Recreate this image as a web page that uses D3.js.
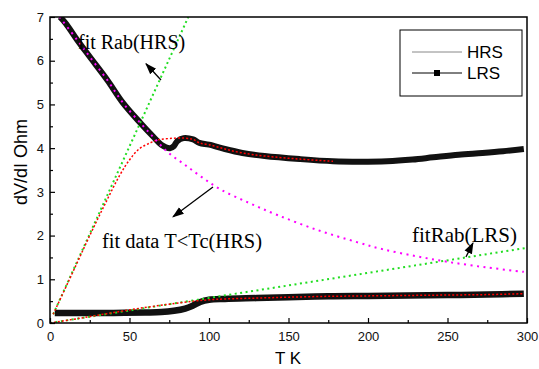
<!DOCTYPE html>
<html>
<head>
<meta charset="utf-8">
<script src="https://cdn.jsdelivr.net/npm/d3@7"></script>
<style>
  body { margin: 0; background: #fff; }
  svg { display: block; }
</style>
</head>
<body>
<svg id="chart"></svg>
<script>
// measured data, [T (K), dV/dI (Ohm)]
const hrsData = [[6.3,7.0],[10,6.85],[17,6.48],[25,6.09],[36,5.56],[46,5.03],[57,4.57],[65,4.26],[70,4.08],
  [75.5,4.0],[78,4.05],[80,4.16],[84,4.23],[90,4.2],[94,4.12],[100,4.08],[110,3.98],[121,3.89],[135,3.82],
  [157,3.75],[178,3.7],[195,3.69],[212,3.7],[228,3.74],[241,3.79],[257,3.85],[272,3.89],[285,3.93],[298,3.98]];
const lrsData = [[3,0.23],[20,0.23],[40,0.23],[60,0.24],[70,0.25],[78,0.28],[85,0.33],[90,0.4],[94.5,0.48],
  [100,0.53],[110,0.55],[130,0.57],[150,0.59],[175,0.61],[200,0.62],[225,0.63],[250,0.64],[275,0.65],[298,0.67]];

// fits
const fitLowT = [[6,7.0],[17,6.48],[25,6.09],[36,5.56],[46,5.03],[57,4.57],[65,4.25],[74,3.91],[84,3.64],
  [95,3.35],[107,3.06],[125,2.75],[143,2.47],[168,2.13],[193,1.85],[209,1.69],[230,1.53],[250,1.4],[275,1.27],[298,1.17]];
const fitRabHrs = [[2,0.2],[87,7.0]];
const fitHrsTotal = [[2,0.2],[12,0.98],[25,2.0],[35,2.75],[44,3.39],[50,3.73],[56,3.98],[63,4.12],[68,4.19],
  [75,4.22],[84,4.23],[90,4.2],[94,4.12],[100,4.08],[110,3.98],[121,3.89],[135,3.82],[157,3.75],[178,3.7]];
const fitRabLrs = [[0,0],[300,1.72]];
const fitLrsTotal = [[0,0],[19,0.11],[40,0.24],[57,0.34],[75,0.43],[90,0.5],[100,0.53],[110,0.55],[130,0.57],
  [150,0.59],[175,0.61],[200,0.62],[225,0.63],[250,0.64],[275,0.65],[298,0.67]];

const xMajor = [0,50,100,150,200,250,300];
const xMinor = [25,75,125,175,225,275];
const yMajor = [0,1,2,3,4,5,6,7];
const yMinor = [0.5,1.5,2.5,3.5,4.5,5.5,6.5];

// annotations: text [T, v], arrows [[T0,v0],[T1,v1]] with head at second point
const notes = [
  {text: 'fit Rab(HRS)', at: [17.6, 6.27], size: 20},
  {text: 'fit data T<Tc(HRS)', at: [32.7, 1.72], size: 20.5},
  {text: 'fitRab(LRS)', at: [227.7, 1.85], size: 21}
];
const arrows = [
  [[69.8, 5.56], [60.4, 5.93]],
  [[102.5, 3.11], [77.4, 2.43]],
  [[261.6, 1.51], [266, 1.83]]
];

const width = 539, height = 369;
const svg = d3.select('#chart').attr('width', width).attr('height', height);

const x = d3.scaleLinear().domain([0, 300]).range([50, 527]);
const y = d3.scaleLinear().domain([0, 7]).range([323, 17]);

svg.append('defs').append('clipPath').attr('id', 'clip')
  .append('rect').attr('x', 50).attr('y', 17).attr('width', 477).attr('height', 306);

svg.append('defs').append('marker')
  .attr('id', 'head').attr('viewBox', '0 0 10 10').attr('refX', 9).attr('refY', 5)
  .attr('markerWidth', 9).attr('markerHeight', 9).attr('orient', 'auto')
  .append('path').attr('d', 'M0,1.5 L10,5 L0,8.5 Z').attr('fill', '#000');

const line = d3.line().x(d => x(d[0])).y(d => y(d[1])).curve(d3.curveCatmullRom);

const plot = svg.append('g').attr('clip-path', 'url(#clip)');

// data curves (dense square markers -> thick dark band)
plot.append('path').datum(hrsData).attr('d', line)
  .attr('fill', 'none').attr('stroke', '#111').attr('stroke-width', 6)
  .attr('stroke-linejoin', 'round');
plot.append('path').datum(lrsData).attr('d', line)
  .attr('fill', 'none').attr('stroke', '#111').attr('stroke-width', 6.5)
  .attr('stroke-linejoin', 'round');

const dotted = (data, color, dash, w) => plot.append('path').datum(data).attr('d', line)
  .attr('fill', 'none').attr('stroke', color).attr('stroke-width', w).attr('stroke-dasharray', dash);

dotted(fitRabHrs, '#22dd22', '2,3', 2);
dotted(fitRabLrs, '#22dd22', '2,3.5', 2);
dotted(fitHrsTotal, '#ff0000', '2,2', 1.5);
dotted(fitLrsTotal, '#ff0000', '2,2', 1.5);
dotted(fitLowT, '#ff00ff', '2,4.5', 2);

// axes, ticks pointing in
const axisFont = 'Liberation Sans, Arial, sans-serif';
svg.append('g').attr('transform', 'translate(0,323)')
  .call(d3.axisBottom(x).tickValues(xMajor).tickSize(-5).tickPadding(9).tickFormat(d3.format('d')));
svg.append('g').attr('transform', 'translate(0,323)')
  .call(d3.axisBottom(x).tickValues(xMinor).tickSize(-3).tickFormat(''));
svg.append('g').attr('transform', 'translate(50,0)')
  .call(d3.axisLeft(y).tickValues(yMajor).tickSize(-5).tickPadding(6).tickFormat(d3.format('d')));
svg.append('g').attr('transform', 'translate(50,0)')
  .call(d3.axisLeft(y).tickValues(yMinor).tickSize(-3).tickFormat(''));

svg.selectAll('.domain').remove();
svg.selectAll('.tick line').attr('stroke', '#000').attr('stroke-width', 1.2);
svg.selectAll('.tick text').attr('font-family', axisFont).attr('font-size', 13).attr('fill', '#111');

svg.append('rect').attr('x', 50).attr('y', 17).attr('width', 477).attr('height', 306)
  .attr('fill', 'none').attr('stroke', '#000').attr('stroke-width', 1.5);

svg.append('text').attr('x', 288).attr('y', 364).attr('text-anchor', 'middle')
  .attr('font-family', axisFont).attr('font-size', 17).text('T K');
svg.append('text').attr('transform', 'translate(27,162) rotate(-90)').attr('text-anchor', 'middle')
  .attr('font-family', axisFont).attr('font-size', 18).text('dV/dI Ohm');

// annotations
const serif = 'Liberation Serif, Times New Roman, serif';
svg.selectAll('text.note').data(notes).join('text').attr('class', 'note')
  .attr('x', d => x(d.at[0])).attr('y', d => y(d.at[1]))
  .attr('font-family', serif).attr('font-size', d => d.size).attr('fill', '#000')
  .text(d => d.text);

svg.selectAll('line.arrow').data(arrows).join('line').attr('class', 'arrow')
  .attr('x1', d => x(d[0][0])).attr('y1', d => y(d[0][1]))
  .attr('x2', d => x(d[1][0])).attr('y2', d => y(d[1][1]))
  .attr('stroke', '#000').attr('stroke-width', 1.3).attr('marker-end', 'url(#head)');

// legend
const legend = svg.append('g');
legend.append('rect').attr('x', 400).attr('y', 30).attr('width', 122).attr('height', 66)
  .attr('fill', '#fff').attr('stroke', '#000').attr('stroke-width', 1);
legend.append('line').attr('x1', 412).attr('x2', 462).attr('y1', 52).attr('y2', 52)
  .attr('stroke', '#888').attr('stroke-width', 1);
legend.append('line').attr('x1', 412).attr('x2', 462).attr('y1', 73).attr('y2', 73)
  .attr('stroke', '#000').attr('stroke-width', 1);
legend.append('rect').attr('x', 434).attr('y', 70).attr('width', 6).attr('height', 6).attr('fill', '#000');
legend.append('text').attr('x', 467).attr('y', 58).attr('font-family', axisFont).attr('font-size', 17).text('HRS');
legend.append('text').attr('x', 467).attr('y', 79).attr('font-family', axisFont).attr('font-size', 17).text('LRS');
</script>
</body>
</html>
